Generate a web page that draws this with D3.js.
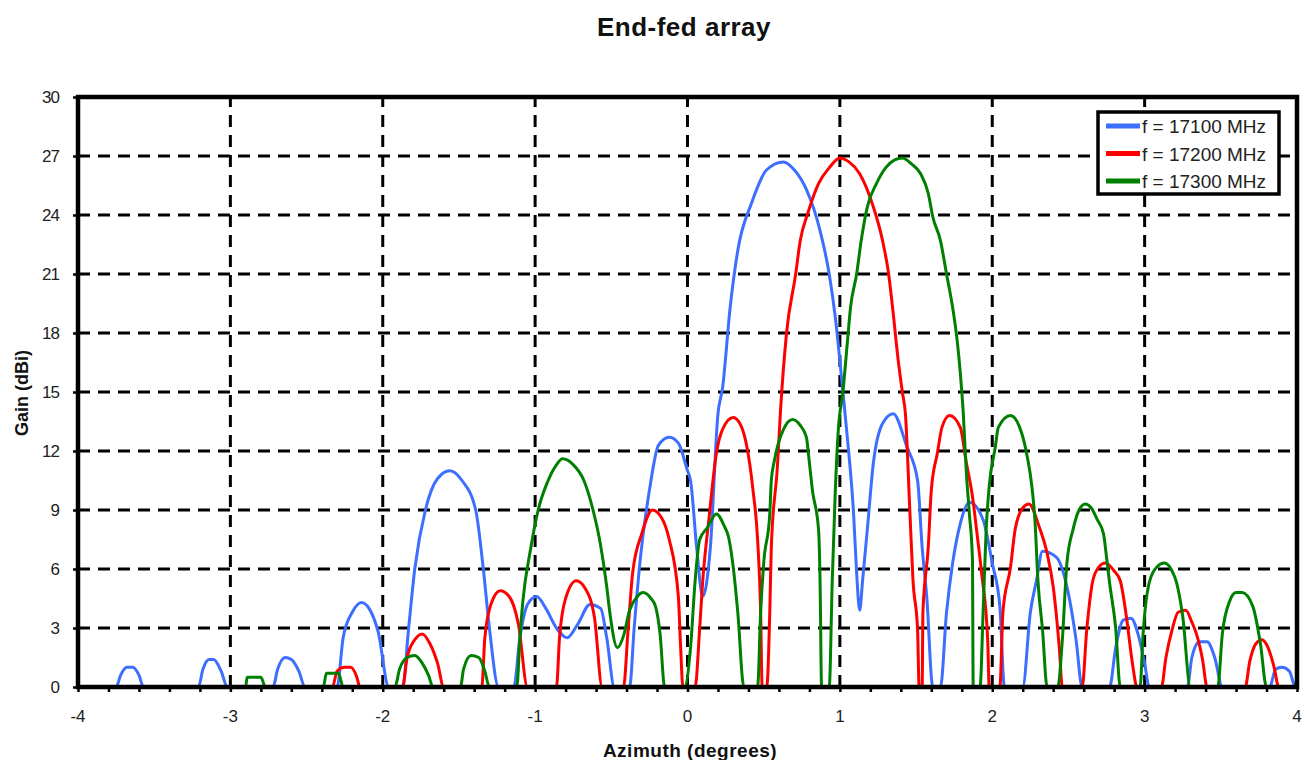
<!DOCTYPE html>
<html>
<head>
<meta charset="utf-8">
<script src="https://cdn.jsdelivr.net/npm/d3@7"></script>
<style>
  body { margin: 0; background: #fff; }
  text { font-family: "Liberation Sans", Arial, sans-serif; }
</style>
</head>
<body>
<script>
// series: [azimuth (deg), gain (dBi)], gains below 0 clipped to 0
let gain17100 = [
    [-4,0],
    [-3.75,0],[-3.72,0.6],[-3.68,1.0],[-3.64,1.0],[-3.60,0.6],[-3.57,0],
    [-3.21,0],[-3.18,0.9],[-3.14,1.4],[-3.11,1.4],[-3.06,0.8],[-3.02,0],
    [-2.72,0],[-2.69,0.9],[-2.64,1.5],[-2.60,1.4],[-2.55,0.8],[-2.51,0],
    [-2.30,0],[-2.26,2.5],[-2.20,3.8],[-2.14,4.3],[-2.09,4.0],[-2.03,2.8],[-1.96,0],
    [-1.87,0],[-1.83,3.0],[-1.79,6.0],[-1.72,9.0],[-1.64,10.6],[-1.56,11.0],[-1.48,10.5],[-1.39,9.0],[-1.34,6.0],[-1.30,3.0],[-1.24,0],
    [-1.14,0],[-1.10,2.5],[-1.05,4.2],[-0.99,4.6],[-0.93,4.0],[-0.86,3.0],[-0.79,2.5],[-0.72,3.2],[-0.64,4.2],[-0.57,4.0],[-0.53,2.5],[-0.48,0],
    [-0.38,0],[-0.35,3.0],[-0.31,6.5],[-0.25,10.0],[-0.19,12.3],[-0.12,12.7],[-0.06,12.4],[0.0,11.0],[0.02,10.5],[0.06,7.1],[0.10,4.6],
    [0.15,7.1],[0.20,13.9],[0.23,15.2],[0.28,19.3],[0.33,22.2],[0.42,24.6],[0.52,26.3],[0.63,26.7],[0.70,26.3],[0.78,25.3],[0.87,23.2],
    [0.93,21.0],[0.97,18.8],[1.02,15.0],[1.05,12.6],[1.09,8.8],[1.11,5.8],[1.13,3.9],
    [1.15,5.5],[1.18,8.0],[1.22,11.4],[1.28,13.4],[1.35,13.9],[1.44,12.2],[1.51,10.5],[1.54,7.1],[1.57,4.6],[1.61,0],
    [1.66,0],[1.70,3.8],[1.74,6.3],[1.79,8.3],[1.85,9.4],[1.94,8.5],[2.00,6.3],[2.05,4.1],[2.08,0],
    [2.20,0],[2.25,3.8],[2.29,5.4],[2.33,6.9],[2.42,6.6],[2.49,5.1],[2.55,2.4],[2.59,0],
    [2.77,0],[2.81,2.0],[2.86,3.4],[2.91,3.5],[2.96,2.6],[3.00,1.2],[3.03,0],
    [3.28,0],[3.31,1.5],[3.36,2.3],[3.41,2.3],[3.46,1.5],[3.51,0],
    [3.82,0],[3.86,0.9],[3.90,1.0],[3.95,0.8],[3.99,0],[4,0]
];

let gain17200 = [
    [-4,0],
    [-2.33,0],[-2.30,0.8],[-2.25,1.0],[-2.21,1.0],[-2.17,0.5],[-2.15,0],
    [-1.87,0],[-1.84,1.5],[-1.79,2.4],[-1.74,2.7],[-1.69,2.2],[-1.64,1.2],[-1.60,0],
    [-1.35,0],[-1.33,2.5],[-1.29,4.2],[-1.23,4.9],[-1.17,4.6],[-1.11,3.2],[-1.05,0],
    [-0.86,0],[-0.84,2.5],[-0.80,4.5],[-0.73,5.4],[-0.67,5.0],[-0.61,3.5],[-0.56,0],
    [-0.42,0],[-0.39,2.9],[-0.36,5.8],[-0.30,7.8],[-0.23,9.0],[-0.17,8.6],[-0.12,7.5],[-0.06,4.6],[-0.045,2.0],[-0.03,0],
    [0.05,0],[0.08,3.0],[0.10,5.4],[0.14,8.5],[0.19,11.9],[0.23,13.1],[0.30,13.7],[0.35,13.3],[0.39,12.2],[0.43,10.0],[0.46,7.5],[0.48,3.8],[0.49,0],
    [0.52,0],[0.54,3.8],[0.55,7.1],[0.59,11.2],[0.61,14.0],[0.65,18.0],[0.71,21.0],[0.74,22.7],[0.79,24.1],[0.86,25.6],[0.93,26.4],
    [1.00,26.9],[1.06,26.7],[1.13,26.1],[1.22,24.4],[1.28,22.7],[1.32,21.0],[1.35,19.0],[1.38,16.8],[1.41,15.0],[1.43,13.9],
    [1.46,8.8],[1.48,5.4],[1.51,2.9],[1.52,0],
    [1.54,0],[1.545,3.8],[1.58,7.1],[1.60,10.0],[1.64,11.9],[1.67,13.2],[1.72,13.8],[1.79,13.2],[1.83,11.4],[1.87,9.7],[1.90,7.8],[1.93,5.8],[1.97,2.4],[1.98,0],
    [2.05,0],[2.07,3.8],[2.12,6.1],[2.15,8.0],[2.20,9.1],[2.24,9.3],[2.31,8.1],[2.36,6.8],[2.40,5.1],[2.44,2.0],[2.46,0],
    [2.59,0],[2.62,2.9],[2.66,5.4],[2.70,6.1],[2.74,6.3],[2.80,5.9],[2.84,5.4],[2.88,3.6],[2.92,1.2],[2.95,0],
    [3.11,0],[3.14,1.5],[3.18,2.9],[3.22,3.8],[3.27,3.9],[3.31,3.3],[3.34,2.7],[3.38,1.4],[3.41,0],
    [3.66,0],[3.69,1.3],[3.73,2.2],[3.77,2.4],[3.81,2.0],[3.85,1.0],[3.88,0],
    [4,0]
];

let gain17300 = [
    [-4,0],
    [-2.90,0],[-2.89,0.5],[-2.80,0.5],[-2.77,0],
    [-2.39,0],[-2.37,0.7],[-2.29,0.7],[-2.26,0],
    [-1.92,0],[-1.89,0.9],[-1.84,1.5],[-1.79,1.6],[-1.74,1.2],[-1.70,0.6],[-1.67,0],
    [-1.49,0],[-1.47,0.9],[-1.42,1.6],[-1.37,1.5],[-1.33,0.8],[-1.30,0],
    [-1.12,0],[-1.10,2.5],[-1.08,4.4],[-1.03,7.0],[-0.98,9.0],[-0.92,10.4],[-0.86,11.3],[-0.82,11.6],[-0.75,11.3],[-0.68,10.5],
    [-0.62,9.0],[-0.57,7.2],[-0.53,5.1],[-0.51,3.8],[-0.46,2.0],[-0.42,2.6],[-0.38,3.9],[-0.33,4.6],[-0.29,4.8],[-0.24,4.5],[-0.21,4.1],[-0.18,2.7],[-0.15,0],
    [-0.02,0],[0.02,2.0],[0.05,5.4],[0.08,7.5],[0.13,8.1],[0.19,8.8],[0.24,8.2],[0.27,7.6],[0.30,6.1],[0.33,3.8],[0.37,0],
    [0.46,0],[0.48,3.8],[0.50,6.3],[0.54,8.8],[0.55,10.5],[0.57,11.5],[0.63,13.1],[0.69,13.6],[0.74,13.3],[0.78,12.7],[0.80,11.4],[0.82,10.0],[0.86,8.0],[0.87,5.4],[0.88,0],
    [0.93,0],[0.95,5.4],[0.97,10.0],[0.99,13.1],[1.02,15.0],[1.05,17.6],[1.07,19.3],[1.11,21.0],[1.14,22.7],[1.18,24.4],[1.24,25.6],[1.30,26.4],
    [1.36,26.8],[1.41,26.9],[1.47,26.6],[1.53,26.1],[1.58,25.1],[1.61,23.9],[1.66,22.7],[1.70,21.0],[1.74,19.3],[1.77,17.6],[1.79,16.0],
    [1.81,13.9],[1.83,10.9],[1.85,8.8],[1.87,6.5],[1.875,0],
    [1.92,0],[1.94,3.8],[1.96,8.0],[1.98,10.2],[2.02,12.2],[2.04,13.2],[2.12,13.8],[2.18,13.2],[2.23,11.7],[2.26,10.2],[2.28,8.5],[2.30,5.4],[2.33,2.9],[2.36,0],
    [2.43,0],[2.46,2.4],[2.49,6.3],[2.53,8.0],[2.57,9.0],[2.61,9.3],[2.65,9.1],[2.69,8.5],[2.73,7.8],[2.75,6.6],[2.77,5.3],[2.81,3.0],[2.84,0],
    [2.97,0],[2.99,2.7],[3.03,5.3],[3.08,6.1],[3.13,6.3],[3.18,5.9],[3.21,5.3],[3.25,3.6],[3.30,0],
    [3.48,0],[3.51,2.7],[3.56,4.4],[3.60,4.8],[3.64,4.8],[3.71,4.1],[3.76,2.2],[3.80,0],
    [3.99,0],[4,0.6]
];

let seriesNames = ["f = 17100 MHz", "f = 17200 MHz", "f = 17300 MHz"];
let seriesColors = ["#3c6eff", "#ff0000", "#008000"];
let xTicks = [-4, -3, -2, -1, 0, 1, 2, 3, 4];
let yTicks = [0, 3, 6, 9, 12, 15, 18, 21, 24, 27, 30];

let w = 1305;
let h = 760;
let plotLeft = 78, plotTop = 97, plotRight = 1297, plotBottom = 687;

let svg = d3.select("body")
    .append("svg")
    .attr("width", w)
    .attr("height", h);

let x = d3.scaleLinear().domain([-4, 4]).range([plotLeft, plotRight]);
let y = d3.scaleLinear().domain([0, 30]).range([plotBottom, plotTop]);

//title
svg.append("text")
    .attr("x", 684)
    .attr("y", 36)
    .attr("text-anchor", "middle")
    .attr("font-size", "26px")
    .attr("font-weight", "bold")
    .attr("letter-spacing", "0.5px")
    .attr("fill", "#111")
    .text("End-fed array");

//grid
svg.append("g")
    .selectAll("line")
    .data(xTicks.slice(1, -1))
    .enter()
    .append("line")
    .attr("x1", d => x(d)).attr("x2", d => x(d))
    .attr("y1", plotBottom).attr("y2", plotTop)
    .attr("stroke", "#000")
    .attr("stroke-width", 3)
    .attr("stroke-dasharray", "12,8");

svg.append("g")
    .selectAll("line")
    .data(yTicks.slice(1, -1))
    .enter()
    .append("line")
    .attr("x1", plotLeft).attr("x2", plotRight)
    .attr("y1", d => y(d)).attr("y2", d => y(d))
    .attr("stroke", "#000")
    .attr("stroke-width", 3)
    .attr("stroke-dasharray", "12,8");

//clip for the curves
svg.append("clipPath")
    .attr("id", "plot")
    .append("rect")
    .attr("x", plotLeft).attr("y", plotTop)
    .attr("width", plotRight - plotLeft).attr("height", plotBottom - plotTop);

let line = d3.line()
    .curve(d3.curveMonotoneX)
    .x(d => x(d[0]))
    .y(d => y(d[1]));

let allSeries = [gain17100, gain17200, gain17300];
for (let i = 0; i < allSeries.length; i++) {
    svg.append("path")
        .datum(allSeries[i])
        .attr("clip-path", "url(#plot)")
        .attr("fill", "none")
        .attr("stroke", seriesColors[i])
        .attr("stroke-width", 3)
        .attr("stroke-linejoin", "round")
        .attr("d", line);
}

//axes
let minorX = d3.range(-4, 4.001, 0.2);
let xAxis = svg.append("g")
    .attr("transform", "translate(0," + plotBottom + ")")
    .call(d3.axisBottom(x).tickValues(minorX).tickSize(5).tickFormat(""));
xAxis.select(".domain").remove();
xAxis.selectAll(".tick line").attr("stroke-width", 2.5);

svg.append("g")
    .selectAll("text")
    .data(xTicks)
    .enter()
    .append("text")
    .attr("x", d => x(d))
    .attr("y", 722)
    .attr("text-anchor", "middle")
    .attr("font-size", "17px")
    .attr("fill", "#222")
    .text(d => d);

let yAxis = svg.append("g")
    .attr("transform", "translate(" + plotLeft + ",0)")
    .call(d3.axisLeft(y).tickValues(yTicks).tickSize(5).tickPadding(14));
yAxis.select(".domain").remove();
yAxis.selectAll(".tick line").attr("stroke-width", 2.5);
yAxis.selectAll(".tick text")
    .attr("font-size", "17px")
    .attr("letter-spacing", "-1px")
    .attr("fill", "#222")
    .attr("font-family", "'Liberation Sans', Arial, sans-serif");

//frame
svg.append("rect")
    .attr("x", plotLeft).attr("y", plotTop)
    .attr("width", plotRight - plotLeft).attr("height", plotBottom - plotTop)
    .attr("fill", "none")
    .attr("stroke", "#000")
    .attr("stroke-width", 4.5);

//axis titles
svg.append("text")
    .attr("x", 690)
    .attr("y", 757)
    .attr("text-anchor", "middle")
    .attr("font-size", "19px")
    .attr("font-weight", "bold")
    .attr("letter-spacing", "0.5px")
    .attr("fill", "#111")
    .text("Azimuth (degrees)");

svg.append("text")
    .attr("transform", "translate(28,393) rotate(-90)")
    .attr("text-anchor", "middle")
    .attr("font-size", "18px")
    .attr("font-weight", "bold")
    .attr("fill", "#111")
    .text("Gain (dBi)");

//legend
let legend = svg.append("g");
legend.append("rect")
    .attr("x", 1098).attr("y", 112)
    .attr("width", 181).attr("height", 82)
    .attr("fill", "#fff")
    .attr("stroke", "#000")
    .attr("stroke-width", 3.5);

for (let k = 0; k < seriesNames.length; k++) {
    let ly = 126 + k * 27.5;
    legend.append("line")
        .attr("x1", 1106).attr("x2", 1140)
        .attr("y1", ly).attr("y2", ly)
        .attr("stroke", seriesColors[k])
        .attr("stroke-width", 5);
    legend.append("text")
        .attr("x", 1142)
        .attr("y", ly + 7)
        .attr("font-size", "19px")
        .attr("fill", "#222")
        .text(seriesNames[k]);
}
</script>
</body>
</html>
